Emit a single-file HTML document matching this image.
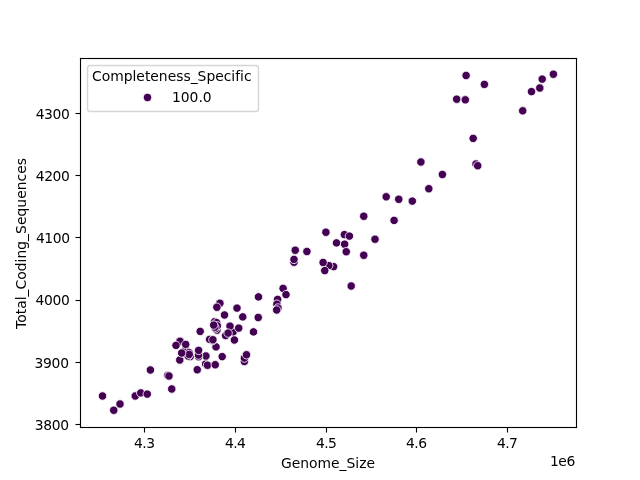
<!DOCTYPE html>
<html lang="en"><head><meta charset="utf-8"><title>Genome_Size vs Total_Coding_Sequences</title>
<style>html,body{margin:0;padding:0;background:#fff;width:640px;height:480px;overflow:hidden}svg{display:block}text{font-family:'DejaVu Sans', 'Liberation Sans', sans-serif;font-size:13.8889px;fill:#000}.pt{fill:#440154;stroke:#fff;stroke-width:0.8000}.k{fill:#000}</style></head><body>
<svg width="640" height="480" viewBox="0 0 640 480">
<rect x="0" y="0" width="640" height="480" fill="#fff"/>
<clipPath id="ax"><rect x="80.5" y="58.5" width="496" height="369"/></clipPath>
<g clip-path="url(#ax)">
<circle class="pt" cx="102.50" cy="396.00" r="4.200"/>
<circle class="pt" cx="113.75" cy="410.25" r="4.200"/>
<circle class="pt" cx="120.00" cy="404.00" r="4.200"/>
<circle class="pt" cx="135.25" cy="396.00" r="4.200"/>
<circle class="pt" cx="140.75" cy="392.90" r="4.200"/>
<circle class="pt" cx="147.25" cy="394.10" r="4.200"/>
<circle class="pt" cx="150.40" cy="370.00" r="4.200"/>
<circle class="pt" cx="167.75" cy="375.40" r="4.200"/>
<circle class="pt" cx="169.00" cy="376.00" r="4.200"/>
<circle class="pt" cx="171.75" cy="389.00" r="4.200"/>
<circle class="pt" cx="197.25" cy="369.75" r="4.200"/>
<circle class="pt" cx="179.75" cy="360.00" r="4.200"/>
<circle class="pt" cx="205.60" cy="364.00" r="4.200"/>
<circle class="pt" cx="207.50" cy="365.25" r="4.200"/>
<circle class="pt" cx="215.25" cy="364.75" r="4.200"/>
<circle class="pt" cx="185.80" cy="349.40" r="4.200"/>
<circle class="pt" cx="205.90" cy="356.00" r="4.200"/>
<circle class="pt" cx="198.60" cy="356.70" r="4.200"/>
<circle class="pt" cx="198.50" cy="355.10" r="4.200"/>
<circle class="pt" cx="198.60" cy="350.40" r="4.200"/>
<circle class="pt" cx="189.25" cy="352.60" r="4.200"/>
<circle class="pt" cx="190.20" cy="356.60" r="4.200"/>
<circle class="pt" cx="188.20" cy="356.00" r="4.200"/>
<circle class="pt" cx="189.25" cy="354.40" r="4.200"/>
<circle class="pt" cx="181.70" cy="353.00" r="4.200"/>
<circle class="pt" cx="180.00" cy="341.30" r="4.200"/>
<circle class="pt" cx="176.00" cy="345.40" r="4.200"/>
<circle class="pt" cx="185.70" cy="344.40" r="4.200"/>
<circle class="pt" cx="216.00" cy="346.90" r="4.200"/>
<circle class="pt" cx="212.50" cy="340.60" r="4.200"/>
<circle class="pt" cx="222.20" cy="356.60" r="4.200"/>
<circle class="pt" cx="244.40" cy="361.50" r="4.200"/>
<circle class="pt" cx="244.40" cy="358.10" r="4.200"/>
<circle class="pt" cx="246.50" cy="354.75" r="4.200"/>
<circle class="pt" cx="258.50" cy="296.90" r="4.200"/>
<circle class="pt" cx="277.60" cy="299.40" r="4.200"/>
<circle class="pt" cx="276.90" cy="304.20" r="4.200"/>
<circle class="pt" cx="278.00" cy="308.00" r="4.200"/>
<circle class="pt" cx="276.70" cy="310.00" r="4.200"/>
<circle class="pt" cx="219.90" cy="303.30" r="4.200"/>
<circle class="pt" cx="216.90" cy="307.25" r="4.200"/>
<circle class="pt" cx="237.00" cy="308.10" r="4.200"/>
<circle class="pt" cx="224.50" cy="315.00" r="4.200"/>
<circle class="pt" cx="242.75" cy="316.90" r="4.200"/>
<circle class="pt" cx="258.25" cy="317.50" r="4.200"/>
<circle class="pt" cx="214.60" cy="321.60" r="4.200"/>
<circle class="pt" cx="216.60" cy="322.60" r="4.200"/>
<circle class="pt" cx="216.90" cy="330.20" r="4.200"/>
<circle class="pt" cx="215.60" cy="328.75" r="4.200"/>
<circle class="pt" cx="217.30" cy="325.80" r="4.200"/>
<circle class="pt" cx="214.80" cy="327.20" r="4.200"/>
<circle class="pt" cx="213.70" cy="325.10" r="4.200"/>
<circle class="pt" cx="233.10" cy="331.90" r="4.200"/>
<circle class="pt" cx="230.00" cy="326.10" r="4.200"/>
<circle class="pt" cx="238.75" cy="328.10" r="4.200"/>
<circle class="pt" cx="253.50" cy="331.90" r="4.200"/>
<circle class="pt" cx="225.60" cy="335.60" r="4.200"/>
<circle class="pt" cx="228.10" cy="333.10" r="4.200"/>
<circle class="pt" cx="200.20" cy="331.40" r="4.200"/>
<circle class="pt" cx="234.40" cy="340.00" r="4.200"/>
<circle class="pt" cx="209.60" cy="339.40" r="4.200"/>
<circle class="pt" cx="212.90" cy="339.75" r="4.200"/>
<circle class="pt" cx="325.90" cy="232.25" r="4.200"/>
<circle class="pt" cx="344.40" cy="234.60" r="4.200"/>
<circle class="pt" cx="349.40" cy="236.10" r="4.200"/>
<circle class="pt" cx="336.50" cy="242.90" r="4.200"/>
<circle class="pt" cx="344.60" cy="244.20" r="4.200"/>
<circle class="pt" cx="346.25" cy="251.70" r="4.200"/>
<circle class="pt" cx="295.25" cy="250.25" r="4.200"/>
<circle class="pt" cx="306.90" cy="251.50" r="4.200"/>
<circle class="pt" cx="294.00" cy="262.25" r="4.200"/>
<circle class="pt" cx="294.00" cy="259.40" r="4.200"/>
<circle class="pt" cx="333.60" cy="266.60" r="4.200"/>
<circle class="pt" cx="328.75" cy="265.60" r="4.200"/>
<circle class="pt" cx="323.10" cy="262.50" r="4.200"/>
<circle class="pt" cx="324.75" cy="270.60" r="4.200"/>
<circle class="pt" cx="283.10" cy="288.40" r="4.200"/>
<circle class="pt" cx="286.00" cy="294.60" r="4.200"/>
<circle class="pt" cx="351.20" cy="286.00" r="4.200"/>
<circle class="pt" cx="386.20" cy="196.80" r="4.200"/>
<circle class="pt" cx="398.75" cy="199.30" r="4.200"/>
<circle class="pt" cx="412.30" cy="201.10" r="4.200"/>
<circle class="pt" cx="363.75" cy="216.25" r="4.200"/>
<circle class="pt" cx="394.10" cy="220.40" r="4.200"/>
<circle class="pt" cx="375.00" cy="239.25" r="4.200"/>
<circle class="pt" cx="363.75" cy="255.25" r="4.200"/>
<circle class="pt" cx="466.10" cy="75.50" r="4.200"/>
<circle class="pt" cx="484.40" cy="84.40" r="4.200"/>
<circle class="pt" cx="456.70" cy="99.20" r="4.200"/>
<circle class="pt" cx="465.30" cy="99.80" r="4.200"/>
<circle class="pt" cx="553.40" cy="74.25" r="4.200"/>
<circle class="pt" cx="542.20" cy="79.10" r="4.200"/>
<circle class="pt" cx="539.80" cy="88.00" r="4.200"/>
<circle class="pt" cx="531.50" cy="91.60" r="4.200"/>
<circle class="pt" cx="522.70" cy="110.80" r="4.200"/>
<circle class="pt" cx="473.20" cy="138.40" r="4.200"/>
<circle class="pt" cx="420.90" cy="162.00" r="4.200"/>
<circle class="pt" cx="476.00" cy="164.00" r="4.200"/>
<circle class="pt" cx="477.70" cy="165.70" r="4.200"/>
<circle class="pt" cx="442.40" cy="174.50" r="4.200"/>
<circle class="pt" cx="428.80" cy="188.70" r="4.200"/>
</g>
<rect class="k" x="143.944" y="427.5" width="1.111" height="5"/>
<rect class="k" x="234.944" y="427.5" width="1.111" height="5"/>
<rect class="k" x="325.944" y="427.5" width="1.111" height="5"/>
<rect class="k" x="415.944" y="427.5" width="1.111" height="5"/>
<rect class="k" x="506.944" y="427.5" width="1.111" height="5"/>
<rect class="k" x="75.5" y="423.944" width="5" height="1.111"/>
<rect class="k" x="75.5" y="361.944" width="5" height="1.111"/>
<rect class="k" x="75.5" y="299.944" width="5" height="1.111"/>
<rect class="k" x="75.5" y="236.944" width="5" height="1.111"/>
<rect class="k" x="75.5" y="174.944" width="5" height="1.111"/>
<rect class="k" x="75.5" y="112.944" width="5" height="1.111"/>
<rect class="k" x="79.944" y="57.944" width="1.111" height="370.111"/>
<rect class="k" x="575.944" y="57.944" width="1.111" height="370.111"/>
<rect class="k" x="79.944" y="426.944" width="497.111" height="1.111"/>
<rect class="k" x="79.944" y="57.944" width="497.111" height="1.111"/>
<rect x="87.5" y="65.5" width="171" height="46" rx="2.78" fill="#fff" stroke="#ccc" stroke-width="1.389" opacity="0.8"/>
<circle class="pt" cx="147.50" cy="97.50" r="4.200"/>
<text x="144.19" y="447.60" text-anchor="middle" style="letter-spacing:-0.491px">4.3</text>
<text x="235.03" y="447.65" text-anchor="middle" style="letter-spacing:-0.688px">4.4</text>
<text x="326.18" y="447.60" text-anchor="middle" style="letter-spacing:-0.632px">4.5</text>
<text x="416.26" y="447.58" text-anchor="middle" style="letter-spacing:-0.555px">4.6</text>
<text x="507.06" y="447.58" text-anchor="middle" style="letter-spacing:-0.722px">4.7</text>
<text x="68.63" y="429.59" text-anchor="end" style="letter-spacing:-0.369px">3800</text>
<text x="68.71" y="367.52" text-anchor="end" style="letter-spacing:-0.286px">3900</text>
<text x="69.34" y="304.59" text-anchor="end" style="letter-spacing:-0.401px">4000</text>
<text x="69.65" y="242.60" text-anchor="end" style="letter-spacing:-0.387px">4100</text>
<text x="69.45" y="180.60" text-anchor="end" style="letter-spacing:-0.423px">4200</text>
<text x="69.43" y="118.55" text-anchor="end" style="letter-spacing:-0.384px">4300</text>
<text x="328.01" y="467.59" text-anchor="middle" style="letter-spacing:0.001px">Genome_Size</text>
<text x="574.79" y="465.60" text-anchor="end" style="letter-spacing:-0.484px">1e6</text>
<text x="25.87" y="243.51" text-anchor="middle" transform="rotate(-90 25.87 243.51)" style="letter-spacing:0.028px">Total_Coding_Sequences</text>
<text x="92 101.69 110.18 123.69 132.5 136.36 144.89 150.33 158.87 167.66 176.2 183.43 190.66 197.59 206.4 215.21 223.74 231.37 235.23 240.11 243.97" y="80.50">Completeness_Specific</text>
<text x="171.94 180.77 189.6 198.43 202.84" y="101.50">100.0</text>
</svg></body></html>
